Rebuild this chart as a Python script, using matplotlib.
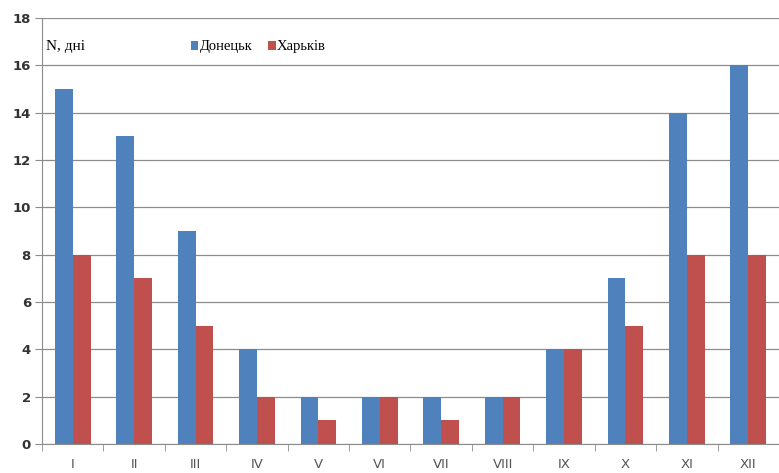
import numpy as np
import matplotlib.pyplot as plt

# Data
months = ["I", "II", "III", "IV", "V", "VI", "VII", "VIII", "IX", "X", "XI", "XII"]
donetsk = [15, 13, 9, 4, 2, 2, 2, 2, 4, 7, 14, 16]
kharkiv = [8, 7, 5, 2, 1, 2, 1, 2, 4, 5, 8, 8]
yticks = [0, 2, 4, 6, 8, 10, 12, 14, 16, 18]

W, H = 779, 473
fig = plt.figure(figsize=(W / 100, H / 100), dpi=100)
ax = fig.add_axes([42 / W, 29 / H, (W - 42) / W, 426 / H])

x = np.arange(len(months))
bw = 0.29
ax.bar(x - bw / 2, donetsk, bw, color="#4F81BD", label="Донецьк", zorder=3)
ax.bar(x + bw / 2, kharkiv, bw, color="#C0504D", label="Харьків", zorder=3)

ax.set_xlim(-0.5, 11.39)
ax.set_ylim(0, 18)
ax.set_yticks(yticks)
ax.yaxis.grid(True, color="#8c8c8c", lw=0.9, zorder=0)

# month labels at centres, tick marks at category boundaries
ax.set_xticks(x)
ax.set_xticklabels(months)
ax.set_xticks(np.arange(-0.5, 12, 1), minor=True)
ax.tick_params(axis="x", which="major", length=0, pad=10, labelsize=9.5, colors="#555555")
ax.tick_params(axis="x", which="minor", length=5, color="#8c8c8c", direction="out")
ax.tick_params(axis="y", length=5, color="#8c8c8c", labelsize=9.5, colors="#333333", pad=3)
for lab in ax.get_yticklabels():
    lab.set_fontweight("bold")

for s in ["top", "right"]:
    ax.spines[s].set_visible(False)
for s in ["left", "bottom"]:
    ax.spines[s].set_color("#8c8c8c")

ax.text(0.006, 0.932, "N, дні", transform=ax.transAxes, fontsize=11,
        family="Liberation Serif", va="center", ha="left")
ax.legend(loc="center left", bbox_to_anchor=(0.202, 0.932), ncol=2, frameon=False,
          prop={"family": "Liberation Serif", "size": 10.5}, handlelength=0.5,
          handleheight=0.6, handletextpad=0.1, columnspacing=1.1, borderpad=0,
          borderaxespad=0)

fig.savefig("out.png", dpi=100)
